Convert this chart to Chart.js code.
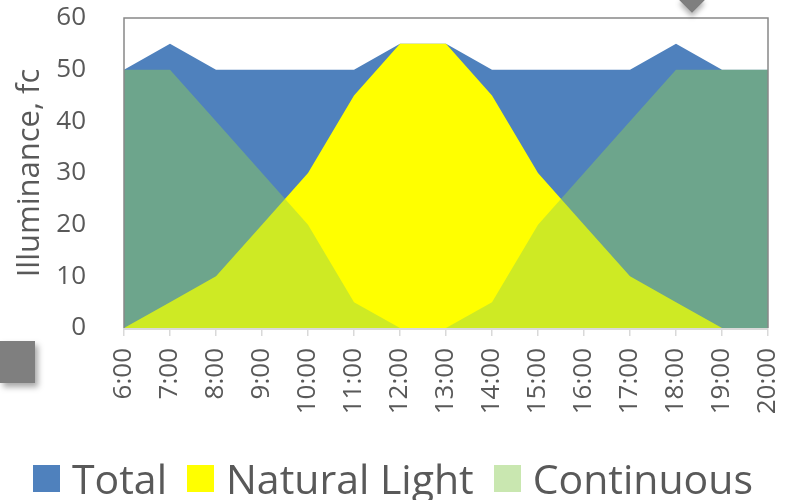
<!DOCTYPE html>
<html>
<head>
<meta charset="utf-8">
<script src="https://cdn.jsdelivr.net/npm/chart.js@4.4.1/dist/chart.umd.min.js"></script>
<style>
  body { margin: 0; background: #fff; }
  #wrap { position: relative; width: 796px; height: 500px; overflow: hidden; }
  #chart { position: absolute; left: 0; top: 0; }
  .tag { position: absolute; left: 0; top: 341px; width: 35px; height: 42px; background: #7f7f7f;
         box-shadow: 3px 4px 6px rgba(0,0,0,0.35); }
  .pointer { position: absolute; left: 683px; top: -9px; width: 18px; height: 18px; background: #7f7f7f;
             transform: rotate(45deg); box-shadow: 3px 3px 5px rgba(0,0,0,0.3); }
  #legend { position: absolute; left: 0; width: 786px; top: 456px; display: flex; justify-content: center;
            align-items: center; font-family: "Open Sans", sans-serif; font-size: 41px; color: #595959;
            white-space: nowrap; }
  #legend .item { display: flex; align-items: center; margin: 0 10px; }
  #legend .box { width: 27px; height: 27px; margin-right: 12px; }
  #legend .txt { line-height: 44px; }
</style>
</head>
<body>
<div id="wrap">
  <canvas id="chart" width="796" height="500"></canvas>
  <div class="tag"></div>
  <div class="pointer"></div>
  <div id="legend"></div>
</div>
<script>
const hours = ['6:00', '7:00', '8:00', '9:00', '10:00', '11:00', '12:00', '13:00',
               '14:00', '15:00', '16:00', '17:00', '18:00', '19:00', '20:00'];
const totalLight = [50, 55, 50, 50, 50, 50, 55, 55, 50, 50, 50, 50, 55, 50, 50];
const naturalLight = [0, 5, 10, 20, 30, 45, 55, 55, 45, 30, 20, 10, 5, 0, 0];
const continuousLight = [50, 50, 40, 30, 20, 5, 0, 0, 5, 20, 30, 40, 50, 50, 50];
const yTicks = [0, 10, 20, 30, 40, 50, 60];

const textGray = '#595959';
const font = '"Open Sans", sans-serif';

// frame around the plot area, drawn over the fills
const plotFrame = {
  id: 'plotFrame',
  afterDatasetsDraw(chart) {
    const { ctx, chartArea: a } = chart;
    ctx.save();
    ctx.lineWidth = 1.5;
    ctx.strokeStyle = '#888888';
    ctx.beginPath();
    ctx.moveTo(a.left, a.bottom);
    ctx.lineTo(a.left, a.top);
    ctx.lineTo(a.right, a.top);
    ctx.lineTo(a.right, a.bottom);
    ctx.stroke();
    ctx.strokeStyle = '#d9d9d9';
    ctx.lineWidth = 2;
    ctx.beginPath();
    ctx.moveTo(a.left, a.bottom + 1);
    ctx.lineTo(a.right, a.bottom + 1);
    ctx.stroke();
    ctx.restore();
  }
};

const chart = new Chart(document.getElementById('chart'), {
  type: 'line',
  data: {
    labels: hours,
    datasets: [
      { label: 'Total', data: totalLight, backgroundColor: '#4f81bd', order: 3 },
      { label: 'Natural Light', data: naturalLight, backgroundColor: '#ffff00', order: 2 },
      { label: 'Continuous', data: continuousLight, backgroundColor: 'rgba(146, 208, 80, 0.45)',
        legendColor: '#c9e7b0', order: 1 }
    ]
  },
  options: {
    responsive: false,
    animation: false,
    layout: { padding: { top: 18, right: 28, left: 0, bottom: 0 } },
    elements: {
      line: { fill: 'origin', borderWidth: 0, tension: 0 },
      point: { radius: 0 }
    },
    plugins: {
      legend: { display: false },
      tooltip: { enabled: false }
    },
    scales: {
      x: {
        offset: false,
        grid: { drawOnChartArea: false, drawTicks: true, tickLength: 8, color: '#d9d9d9', lineWidth: 1.5 },
        border: { display: false },
        ticks: {
          maxRotation: 90, minRotation: 90, padding: 12, autoSkip: false,
          color: textGray, font: { family: font, size: 26 }
        },
        afterFit(scale) {
          scale.height = 172;
          scale.paddingLeft = 0;
          scale.paddingRight = 0;
        }
      },
      y: {
        min: 0, max: 60,
        afterBuildTicks(scale) { scale.ticks = yTicks.map(v => ({ value: v })); },
        grid: { display: false },
        border: { display: false },
        ticks: { padding: 30, color: textGray, font: { family: font, size: 26 } },
        title: {
          display: true, text: 'Illuminance, fc', color: textGray, padding: { top: 12, bottom: 0 },
          font: { family: font, size: 31, weight: 'normal' }
        },
        afterFit(scale) {
          scale.width = 124;
          scale.paddingTop = 0;
          scale.paddingBottom = 0;
        }
      }
    }
  },
  plugins: [plotFrame]
});

// legend built from the datasets
const legend = document.getElementById('legend');
chart.data.datasets.forEach(ds => {
  const item = document.createElement('div');
  item.className = 'item';
  const box = document.createElement('span');
  box.className = 'box';
  box.style.background = ds.legendColor || ds.backgroundColor;
  const txt = document.createElement('span');
  txt.className = 'txt';
  txt.textContent = ds.label;
  item.appendChild(box);
  item.appendChild(txt);
  legend.appendChild(item);
});
</script>
</body>
</html>
